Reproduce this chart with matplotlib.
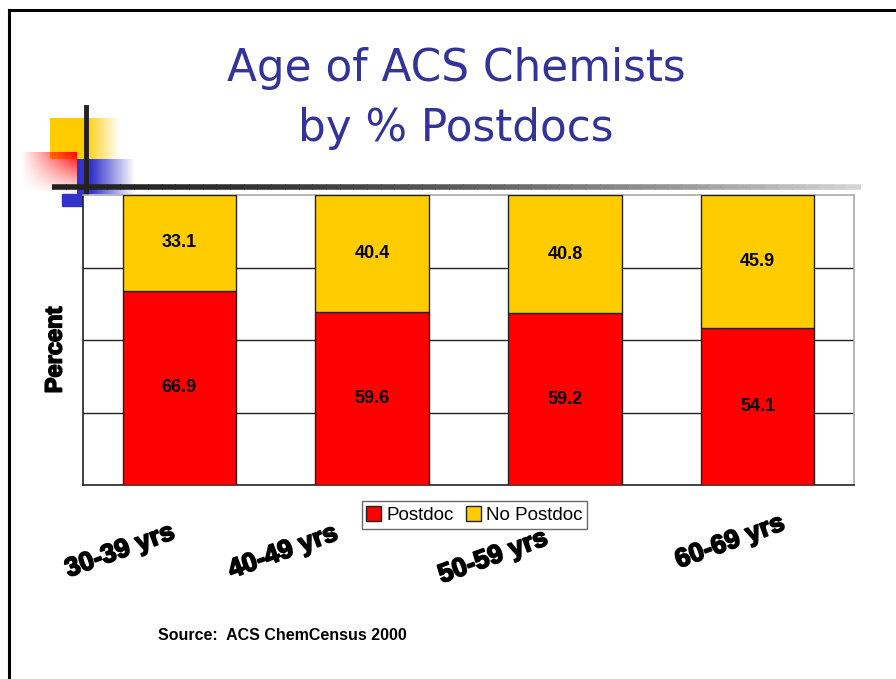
import numpy as np
import matplotlib
matplotlib.use("Agg")
import matplotlib.pyplot as plt
import matplotlib.patheffects as pe
from matplotlib.patches import Rectangle

ages = ["30-39 yrs", "40-49 yrs", "50-59 yrs", "60-69 yrs"]
postdoc = [66.9, 59.6, 59.2, 54.1]
no_postdoc = [33.1, 40.4, 40.8, 45.9]

W, H = 896, 679
fig = plt.figure(figsize=(W / 100, H / 100), dpi=100)

# background layer in pixel coordinates for slide decoration
bg = fig.add_axes([0, 0, 1, 1])
bg.set_xlim(0, W)
bg.set_ylim(H, 0)
bg.axis("off")

# slide border
bg.plot([9, 9], [H, 10], color="black", lw=2.2)
bg.plot([9, W], [10, 10], color="black", lw=2.2)


def grad_rect(x0, y0, x1, y1, rgb, kind="h", fade_from=0.0, z=1):
    img = np.zeros((50, 200, 4))
    img[..., :3] = rgb
    xs = np.linspace(0, 1, 200)
    if kind == "h":
        a = np.where(xs < fade_from, 1.0, 1 - (xs - fade_from) / (1 - fade_from))
        img[..., 3] = a[None, :]
    else:
        ys = np.linspace(0, 1, 50)[:, None]
        img[..., 3] = np.clip(xs[None, :] * (1 - ys), 0, 1)
    bg.imshow(img, extent=(x0, x1, y1, y0), aspect="auto", zorder=z,
              interpolation="bilinear")


yellow = (1.0, 0.8, 0.0)
blue = (0.2, 0.2, 0.8)
red = (1.0, 0.0, 0.0)
grad_rect(50, 118, 120, 159, yellow, "h", fade_from=0.5, z=1)
grad_rect(77, 159, 135, 194, blue, "h", fade_from=0.25, z=2)
bg.add_patch(Rectangle((62, 194), 20, 12, color=blue, zorder=2))
grad_rect(21, 152, 77, 194, red, "d", z=3)
bg.plot([86, 86], [107, 196], color="#222222", lw=3.5, zorder=4)
# horizontal rule fading to grey
seg = np.linspace(52, 860, 60)
for i in range(len(seg) - 1):
    t = i / (len(seg) - 2)
    c = 0.13 + 0.7 * t ** 1.6
    bg.plot([seg[i], seg[i + 1] + 1], [186.5, 186.5], color=(c, c, c),
            lw=4, solid_capstyle="butt", zorder=4)

# title
bg.text(456, 69, "Age of ACS Chemists", ha="center", va="center",
        fontsize=31.5, color="#333399", family="DejaVu Sans", zorder=5)
bg.text(456, 129, "by % Postdocs", ha="center", va="center",
        fontsize=31.5, color="#333399", family="DejaVu Sans", zorder=5)

# chart
ax = fig.add_axes([83 / W, 1 - 485 / H, (854 - 83) / W, (485 - 195) / H])
x = np.arange(len(ages))
b1 = ax.bar(x, postdoc, width=0.59, color="#FF0000", edgecolor="#222222",
            lw=1.0, label="Postdoc", zorder=3)
b2 = ax.bar(x, no_postdoc, bottom=postdoc, width=0.59, color="#FFCC00",
            edgecolor="#222222", lw=1.0, label="No Postdoc", zorder=3)
for i in range(len(ages)):
    ax.text(x[i], postdoc[i] / 2, f"{postdoc[i]:.1f}", ha="center", va="center",
            fontsize=13, fontweight="bold", family="Liberation Sans", zorder=4)
    ax.text(x[i], postdoc[i] + no_postdoc[i] / 2, f"{no_postdoc[i]:.1f}",
            ha="center", va="center", fontsize=13, fontweight="bold",
            family="Liberation Sans", zorder=4)
ax.set_xlim(-0.5, len(ages) - 0.5)
ax.set_ylim(0, 100)
ax.set_yticks([25, 50, 75])
ax.yaxis.grid(True, color="#222222", lw=1.0)
ax.set_axisbelow(True)
ax.tick_params(length=0, labelleft=False, labelbottom=False)
for s in ["left", "bottom"]:
    ax.spines[s].set_color("#222222")
    ax.spines[s].set_linewidth(1.2)
for s in ["top", "right"]:
    ax.spines[s].set_color("#aaaaaa")
    ax.spines[s].set_linewidth(1.2)

heavy = [pe.withStroke(linewidth=1.2, foreground="black")]
bg.text(55, 350, "Percent", rotation=90, ha="center", va="center",
        fontsize=17, fontweight="heavy", family="Liberation Sans",
        path_effects=heavy)

# rotated category labels
label_pos = [(120, 551), (283, 552), (493, 557), (730, 542)]
for (lx, ly), lab in zip(label_pos, ages):
    bg.text(lx, ly, lab, rotation=20, ha="center", va="center",
            fontsize=19, fontweight="heavy", family="Liberation Sans",
            path_effects=heavy)

leg = fig.legend(handles=[b1, b2], loc="center", ncol=2,
                 bbox_to_anchor=(474.5 / W, 1 - 515 / H),
                 prop={"family": "Liberation Sans", "size": 13.5},
                 frameon=True, fancybox=False, edgecolor="#444444",
                 handlelength=0.8, handleheight=0.8, handletextpad=0.3,
                 columnspacing=0.6, borderpad=0.25, borderaxespad=0)
leg.get_frame().set_linewidth(1.0)

bg.text(158, 636, "Source:  ACS ChemCensus 2000", ha="left", va="center",
        fontsize=11.5, fontweight="bold", family="Liberation Sans")

fig.savefig("out.png", dpi=100)
